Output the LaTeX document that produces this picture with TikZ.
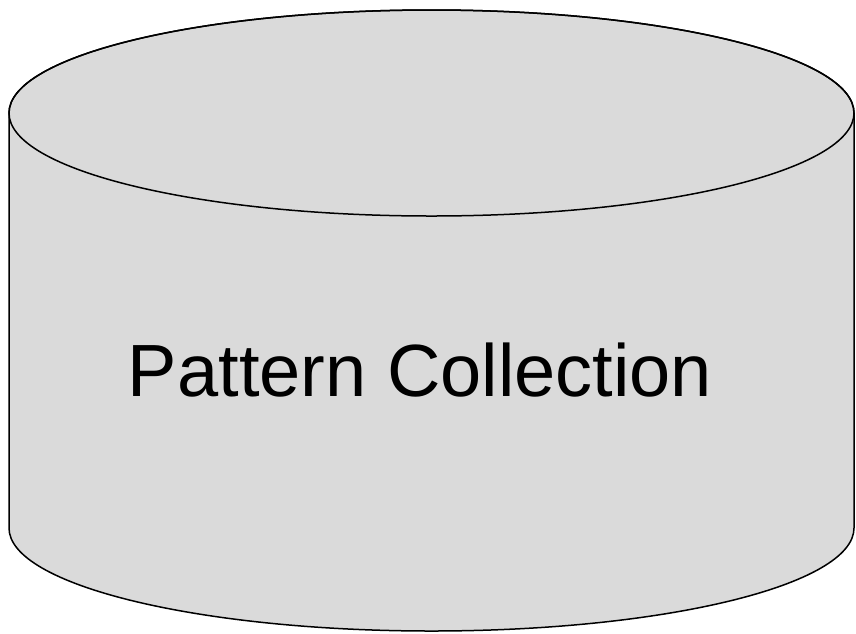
\documentclass[tikz,border=0pt]{standalone}
\usepackage{fontspec}
\setmainfont{Liberation Sans}
\usepackage{xcolor}
\usepackage{tikz}
\definecolor{dbgray}{HTML}{DADADA}

\begin{document}
\begin{tikzpicture}[x=1pt, y=-1pt,
        dbbody/.style={fill=dbgray, draw=black, line width=1.5pt, line join=round},
        dblabel/.style={font={\fontsize{74}{80}\selectfont}, anchor=base, inner sep=0pt}
    ]
        \useasboundingbox (0,0) rectangle (856,633);

        % Cylinder body (sides + lower rim)
        \path[dbbody] (9,113) -- (9,528)
            arc[start angle=180, end angle=0, x radius=422.5, y radius=103]
            -- (854,113)
            arc[start angle=0, end angle=-180, x radius=422.5, y radius=103]
            -- cycle;

        % Top lid
        \draw[line width=1.5pt] (431.5,113) ellipse[x radius=422.5, y radius=103];

        % Label
        \node (store) [dblabel] at (420,396) {Pattern Collection};
    \end{tikzpicture}
\end{document}
